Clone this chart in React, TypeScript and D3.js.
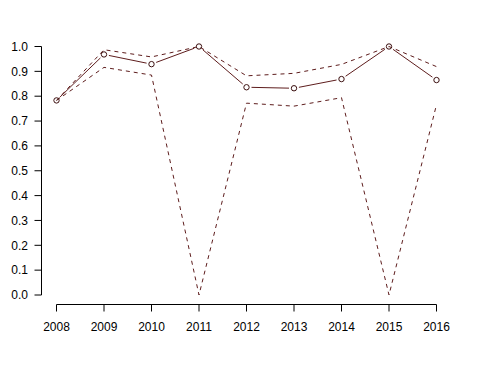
import React from 'react'
import * as d3 from 'd3'

const years = [2008, 2009, 2010, 2011, 2012, 2013, 2014, 2015, 2016]
const estimate = [0.783, 0.968, 0.929, 1.0, 0.836, 0.832, 0.869, 1.0, 0.865]
const upper = [0.783, 0.987, 0.958, 1.0, 0.882, 0.892, 0.928, 1.0, 0.919]
const lower = [0.783, 0.916, 0.885, 0.0, 0.772, 0.76, 0.794, 0.0, 0.766]
const yTicks = [0, 0.1, 0.2, 0.3, 0.4, 0.5, 0.6, 0.7, 0.8, 0.9, 1.0]

const W = 482
const H = 366
const lineColor = '#5e1d1d'
const pointColor = '#3c1010'

export default function App() {
  const x = d3.scaleLinear().domain([2008, 2016]).range([56.5, 436.5])
  const y = d3.scaleLinear().domain([0, 1]).range([295, 46.5])

  const dashed = d3
    .line<number>()
    .x((_, i) => x(years[i]))
    .y((d) => y(d))

  // type = "b": segments stop short of the circles
  const gap = 5
  const segs = estimate.slice(1).map((v, i) => {
    const x0 = x(years[i])
    const y0 = y(estimate[i])
    const x1 = x(years[i + 1])
    const y1 = y(v)
    const len = Math.hypot(x1 - x0, y1 - y0)
    const ux = (x1 - x0) / len
    const uy = (y1 - y0) / len
    return { x0: x0 + ux * gap, y0: y0 + uy * gap, x1: x1 - ux * gap, y1: y1 - uy * gap }
  })

  const axisX = 41.5
  const axisY = 304.5
  const font = 'Liberation Sans, Arial, sans-serif'

  return (
    <svg
      width={W}
      height={H}
      style={{ position: 'absolute', left: 0, top: 0, background: '#fff' }}
    >
      {/* y axis */}
      <line x1={axisX} x2={axisX} y1={y(0)} y2={y(1)} stroke="#000" />
      {yTicks.map((t) => (
        <g key={`yt-${t}`}>
          <line x1={axisX - 7} x2={axisX} y1={y(t)} y2={y(t)} stroke="#000" />
          <text
            x={28}
            y={y(t)}
            dy="0.35em"
            textAnchor="end"
            fontFamily={font}
            fontSize={12}
            fill="#000"
          >
            {t.toFixed(1)}
          </text>
        </g>
      ))}

      {/* x axis */}
      <line x1={x(2008)} x2={x(2016)} y1={axisY} y2={axisY} stroke="#000" />
      {years.map((yr) => (
        <g key={`xt-${yr}`}>
          <line x1={x(yr)} x2={x(yr)} y1={axisY} y2={axisY + 7} stroke="#000" />
          <text
            x={x(yr)}
            y={331}
            textAnchor="middle"
            fontFamily={font}
            fontSize={12}
            fill="#000"
          >
            {yr}
          </text>
        </g>
      ))}

      {/* confidence bounds */}
      <path d={dashed(upper) || ''} fill="none" stroke={lineColor} strokeDasharray="4,4" />
      <path d={dashed(lower) || ''} fill="none" stroke={lineColor} strokeDasharray="4,4" />

      {/* estimate */}
      {segs.map((s, i) => (
        <line key={`seg-${i}`} x1={s.x0} y1={s.y0} x2={s.x1} y2={s.y1} stroke={lineColor} />
      ))}
      {estimate.map((v, i) => (
        <circle
          key={`pt-${i}`}
          cx={x(years[i])}
          cy={y(v)}
          r={2.7}
          fill="none"
          stroke={pointColor}
        />
      ))}
    </svg>
  )
}
